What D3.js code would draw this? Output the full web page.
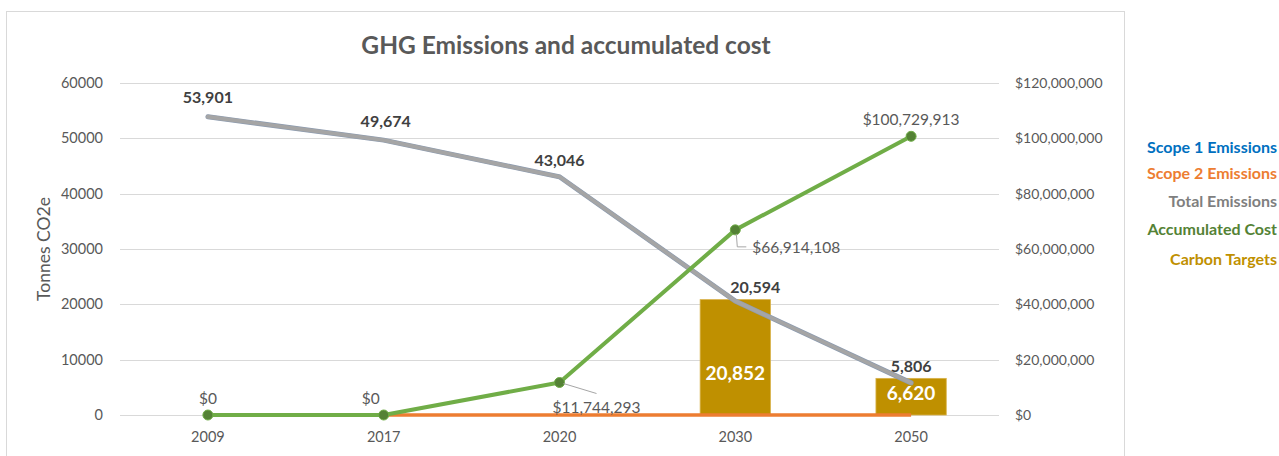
<!DOCTYPE html>
<html><head><meta charset="utf-8">
<script src="https://cdn.jsdelivr.net/npm/d3@7"></script>
<style>
html,body{margin:0;padding:0;background:#fff;}
svg{display:block;font-family:Lato,"Open Sans",sans-serif;}
</style></head>
<body>
<svg id="chart" width="1279" height="456"></svg>
<script>
// ---- data ----
const years = ["2009","2017","2020","2030","2050"];
const scope1 = [53901, 49674, 43046, 20594, 5806];
const scope2 = [null, 0, 0, 0, 0];
const totalEmissions = [53901, 49674, 43046, 20594, 5806];
const accumulatedCost = [0, 0, 11744293, 66914108, 100729913];
const carbonTargets = [null, null, null, 20852, 6620];
const leftTicks = [0, 10000, 20000, 30000, 40000, 50000, 60000];
const rightTicks = [0, 20000000, 40000000, 60000000, 80000000, 100000000, 120000000];
const legendNames = ["Scope 1 Emissions","Scope 2 Emissions","Total Emissions","Accumulated Cost","Carbon Targets"];

// ---- layout ----
const svg = d3.select("#chart");
const plot = {left:120, right:999, top:83, bottom:415};
const colors = {scope1:"#0070c0", scope2:"#ed7d31", total:"#a5a5a5", cost:"#70ad47", costMarker:"#548235", target:"#bf9000"};
const legendColors = ["#0070c0","#ed7d31","#7f7f7f","#548235","#bf9000"];
const textCol = "#595959";

const x = d3.scaleBand().domain(years).range([plot.left, plot.right]).paddingInner(0).paddingOuter(0);
const cx = d => x(d) + x.bandwidth()/2;
const yL = d3.scaleLinear().domain([0, 60000]).range([plot.bottom, plot.top]);
const yR = d3.scaleLinear().domain([0, 120000000]).range([plot.bottom, plot.top]);

// border
svg.append("rect").attr("x",6.5).attr("y",11.5).attr("width",1118).attr("height",460)
  .attr("fill","#fff").attr("stroke","#d9d9d9").attr("stroke-width",1);

// title
svg.append("text").attr("x",566).attr("y",54).attr("text-anchor","middle")
  .attr("font-size",24.5).attr("font-weight","bold").attr("fill",textCol)
  .text("GHG Emissions and accumulated cost");

// gridlines
svg.append("g").selectAll("line").data(leftTicks).join("line")
  .attr("x1",plot.left).attr("x2",plot.right)
  .attr("y1",d=>Math.round(yL(d))+0.5).attr("y2",d=>Math.round(yL(d))+0.5)
  .attr("stroke","#d9d9d9").attr("stroke-width",1);

// left axis
const axL = d3.axisLeft(yL).tickValues(leftTicks).tickSize(0).tickPadding(0).tickFormat(d3.format("d"));
const gL = svg.append("g").attr("transform",`translate(103,0)`).call(axL);
gL.select(".domain").remove();
gL.selectAll("text").attr("font-size",14.5).attr("fill",textCol).attr("font-family","Lato,sans-serif");

// right axis
const axR = d3.axisRight(yR).tickValues(rightTicks).tickSize(0).tickPadding(0).tickFormat(d=>"$"+d3.format(",")(d));
const gR = svg.append("g").attr("transform",`translate(1015,0)`).call(axR);
gR.select(".domain").remove();
gR.selectAll("text").attr("font-size",14).attr("fill",textCol).attr("font-family","Lato,sans-serif");

// bottom axis
const axB = d3.axisBottom(x).tickSize(0).tickPadding(0);
const gB = svg.append("g").attr("transform",`translate(0,432)`).call(axB);
gB.select(".domain").remove();
gB.selectAll("text").attr("font-size",14.5).attr("fill",textCol).attr("font-family","Lato,sans-serif");

// y title
svg.append("text").attr("transform","translate(50,249) rotate(-90)").attr("text-anchor","middle")
  .attr("font-size",17.5).attr("fill",textCol).text("Tonnes CO2e");

// bars (carbon targets)
const barW = x.bandwidth()*0.4;
const barData = years.map((y,i)=>({year:y, v:carbonTargets[i]})).filter(d=>d.v!=null);
svg.append("g").selectAll("rect").data(barData).join("rect")
  .attr("x",d=>cx(d.year)-barW/2).attr("width",barW)
  .attr("y",d=>yL(d.v)).attr("height",d=>yL(0)-yL(d.v))
  .attr("fill",colors.target).attr("stroke","#d9b24a").attr("stroke-width",0.8);

// scope 2 line
const lineL = d3.line().defined(d=>d.v!=null).x(d=>cx(d.year)).y(d=>yL(d.v));
const s2 = years.map((y,i)=>({year:y, v:scope2[i]}));
svg.append("path").datum(s2).attr("d",lineL).attr("fill","none").attr("stroke",colors.scope2).attr("stroke-width",3.5);

// scope 1 line (under total)
const s1 = years.map((y,i)=>({year:y, v:scope1[i]}));
svg.append("path").datum(s1).attr("d",lineL).attr("fill","none").attr("stroke","#8c9bb0").attr("stroke-width",5).attr("stroke-linecap","round");
// total line
const tot = years.map((y,i)=>({year:y, v:totalEmissions[i]}));
svg.append("path").datum(tot).attr("d",lineL).attr("fill","none").attr("stroke",colors.total).attr("stroke-width",3.8).attr("stroke-linecap","round");

// cost line
const lineR = d3.line().x(d=>cx(d.year)).y(d=>yR(d.v));
const cost = years.map((y,i)=>({year:y, v:accumulatedCost[i]}));
svg.append("path").datum(cost).attr("d",lineR).attr("fill","none").attr("stroke",colors.cost).attr("stroke-width",4).attr("stroke-linejoin","round");
svg.append("g").selectAll("circle").data(cost).join("circle")
  .attr("cx",d=>cx(d.year)).attr("cy",d=>yR(d.v)).attr("r",5)
  .attr("fill",colors.costMarker).attr("stroke",colors.cost).attr("stroke-width",1);

// total labels
const totOff = [[0,-20],[2,-20],[0,-17],[20,-15],[0,-17]];
svg.append("g").selectAll("text").data(tot).join("text")
  .attr("x",(d,i)=>cx(d.year)+totOff[i][0]).attr("y",(d,i)=>yL(d.v)+totOff[i][1])
  .attr("text-anchor","middle").attr("dominant-baseline","central")
  .attr("font-size",16).attr("font-weight","bold").attr("fill","#404040")
  .text(d=>d3.format(",")(d.v));

// cost labels
const costOff = [[0,-17,"middle"],[-13,-17,"middle"],[37,24,"middle"],[17,17,"start"],[0,-17,"middle"]];
svg.append("g").selectAll("text").data(cost).join("text")
  .attr("x",(d,i)=>cx(d.year)+costOff[i][0]).attr("y",(d,i)=>yR(d.v)+costOff[i][1])
  .attr("text-anchor",(d,i)=>costOff[i][2]).attr("dominant-baseline","central")
  .attr("font-size",15.5).attr("fill",textCol)
  .text(d=>"$"+d3.format(",")(d.v));
// leader lines
const c2020 = cost[2], c2030 = cost[3];
svg.append("line").attr("x1",cx(c2020.year)+4).attr("y1",yR(c2020.v)+1)
  .attr("x2",cx(c2020.year)+37).attr("y2",yR(c2020.v)+11).attr("stroke","#a6a6a6").attr("stroke-width",1);
svg.append("polyline").attr("points",[
  [cx(c2030.year)+1, yR(c2030.v)+4],[cx(c2030.year)+2, yR(c2030.v)+17],[cx(c2030.year)+11, yR(c2030.v)+17]].join(" "))
  .attr("fill","none").attr("stroke","#a6a6a6").attr("stroke-width",1);

// bar labels
const barOff = [15,-4];
svg.append("g").selectAll("text").data(barData).join("text")
  .attr("x",d=>cx(d.year)).attr("y",(d,i)=>(yL(d.v)+yL(0))/2+barOff[i])
  .attr("text-anchor","middle").attr("dominant-baseline","central")
  .attr("font-size",19).attr("font-weight","bold").attr("fill","#fff")
  .text(d=>d3.format(",")(d.v));

// legend
const legY = [146,172,200,228,258];
svg.append("g").selectAll("text").data(legendNames).join("text")
  .attr("x",1277).attr("y",(d,i)=>legY[i]).attr("text-anchor","end").attr("dominant-baseline","central")
  .attr("font-size",16).attr("font-weight","bold").attr("fill",(d,i)=>legendColors[i])
  .text(d=>d);
</script>
</body></html>
